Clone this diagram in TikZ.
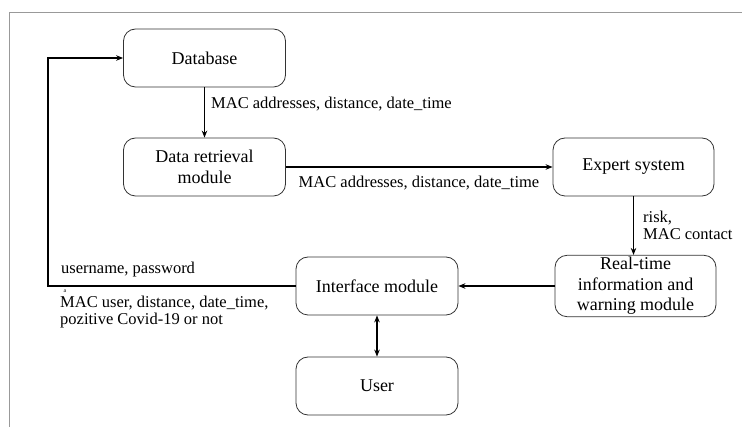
\documentclass[tikz,border=0pt]{standalone}
\usepackage{fontspec}
\setmainfont{Liberation Serif}
\usetikzlibrary{arrows.meta}
\begin{document}
\begin{tikzpicture}[x=1pt,y=-1pt,
  module/.style={draw=black!80, line width=0.8pt, rounded corners=12pt,
    minimum width=162pt, minimum height=58pt, align=center,
    font=\fontsize{18}{20.5}\selectfont, inner sep=2pt},
  flow/.style={draw=black, line width=1.1pt, -{Stealth[length=7pt,width=5.5pt]}},
  both/.style={draw=black, line width=1.1pt, {Stealth[length=7pt,width=5.5pt]}-{Stealth[length=7pt,width=5.5pt]}},
  lbl/.style={font=\fontsize{16.5}{17.5}\selectfont, inner sep=0pt, align=left}]
  \useasboundingbox (0,0) rectangle (742,427);
  % page frame
  \draw[black!40, line width=1pt] (9,427) -- (9,13) -- (742,13);

  % modules
  \node[module] (db) at (204.5,58) {Database};
  \node[module] (dr) at (204.5,167) {Data retrieval\\module};
  \node[module, minimum width=161pt] (es) at (633.5,167) {Expert system};
  \node[module, minimum width=161pt, minimum height=60pt] (rt) at (635.5,286)
    {Real-time\\information and\\warning module};
  \node[module] (im) at (377,286) {Interface module};
  \node[module] (us) at (377,386) {User};

  % connectors
  \draw[flow] (db) -- (dr);
  \draw[flow] (dr) -- (es);
  \draw[flow] (es.south) -- (es.south |- rt.north);
  \draw[flow] (rt) -- (im);
  \coordinate (ret) at (48,286);
  \draw[flow] (im.west) -- (ret) |- (db.west);
  \draw[both] (im) -- (us);

  % connector labels (base of a multi-line label is its last line)
  \node[lbl, anchor=base west] (l1) at (211,109) {MAC addresses, distance, date\_time};
  \node[lbl, anchor=base] (l2) at (419,188) {MAC addresses, distance, date\_time};
  \node[lbl, anchor=base west] (l3) at (643,240) {risk,\\MAC contact};
  \node[lbl, anchor=base west] (l4) at (61,274) {username, password};
  \node[font=\fontsize{6}{7}\selectfont, inner sep=0pt, anchor=base] (l5) at (65,293) {a};
  \node[lbl, anchor=base west] (l6) at (60,325) {MAC user, distance, date\_time,\\pozitive Covid-19 or not};
\end{tikzpicture}
\end{document}
